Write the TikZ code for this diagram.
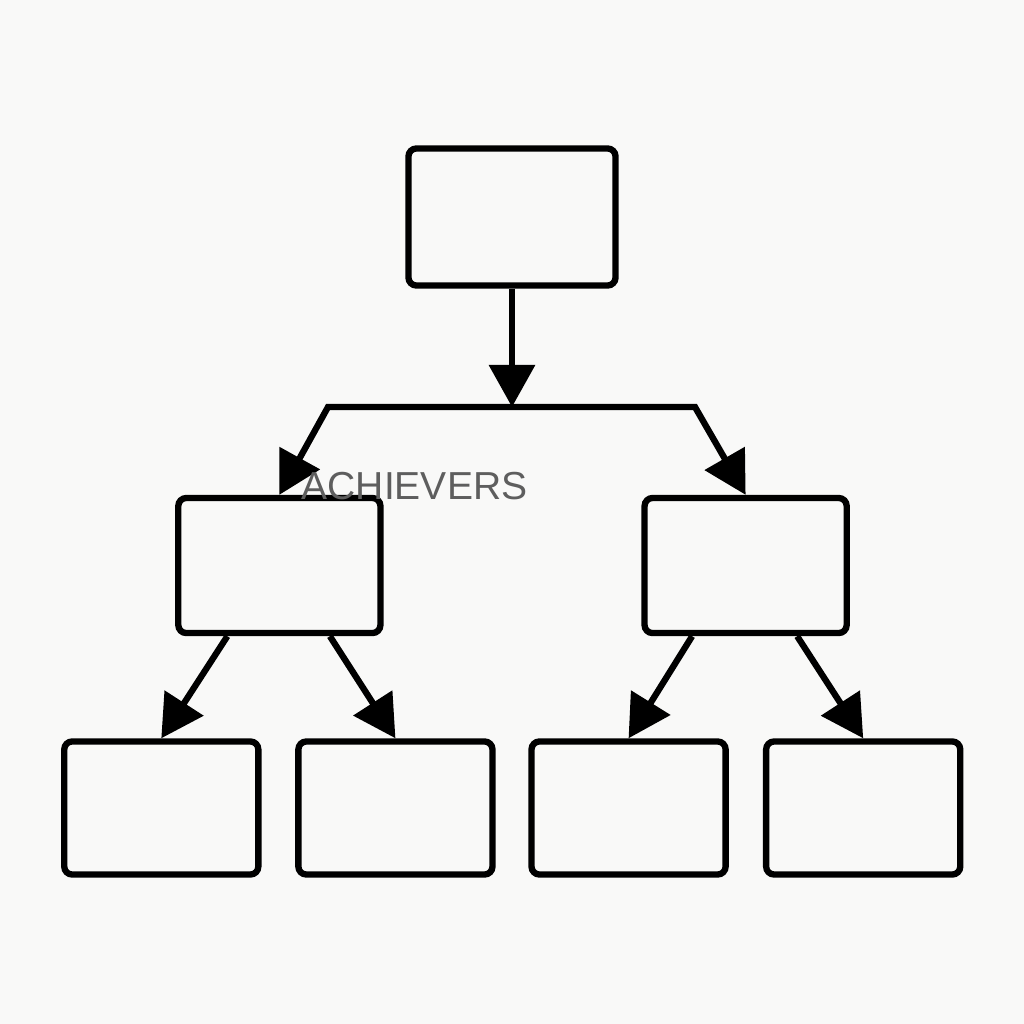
\documentclass[tikz,border=0pt]{standalone}
\usepackage{fontspec}
\setmainfont{Liberation Sans}
\usetikzlibrary{arrows.meta,positioning}
\definecolor{paper}{HTML}{F9F9F8}
\definecolor{inkgray}{HTML}{5E5E5E}
\tikzstyle{box} = [draw, line width=1.8pt, rounded corners=0.8mm, fill=paper, inner sep=0pt]
\tikzstyle{headbox} = [box, minimum width=2.07cm, minimum height=1.37cm]
\tikzstyle{midbox} = [box, minimum width=2.02cm, minimum height=1.35cm]
\tikzstyle{leafbox} = [box, minimum width=1.94cm, minimum height=1.33cm]
\tikzstyle{arrow} = [line width=1.8pt, -{Triangle[length=0.42cm,width=0.45cm]}]

\begin{document}
\begin{tikzpicture}[x=0.01cm,y=-0.01cm]
  \fill[paper] (0,0) rectangle (1024,1024);
  \node[headbox] (head) at (512,217) {};
  \node[midbox, below=2.06cm of head, xshift=-2.325cm] (midL) {};
  \node[midbox, below=2.06cm of head, xshift=2.335cm] (midR) {};
  \node[leafbox, below=1.02cm of midL, xshift=-1.18cm] (leafA) {};
  \node[leafbox, below=1.02cm of midL, xshift=1.16cm] (leafB) {};
  \node[leafbox, below=1.02cm of midR, xshift=-1.17cm] (leafC) {};
  \node[leafbox, below=1.02cm of midR, xshift=1.175cm] (leafD) {};
  \coordinate (split) at (512,407);
  \coordinate (jL) at (328,407);
  \coordinate (jR) at (695,407);
  \draw[arrow] (head.south) -- (split);
  \draw[arrow, {Triangle[length=0.42cm,width=0.45cm]}-{Triangle[length=0.42cm,width=0.45cm]}] (midL.north) -- (jL) -- (jR) -- (midR.north);
  \draw[arrow] ([xshift=-0.52cm]midL.south) -- (leafA.north);
  \draw[arrow] ([xshift=0.505cm]midL.south) -- (leafB.north);
  \draw[arrow] ([xshift=-0.535cm]midR.south) -- (leafC.north);
  \draw[arrow] ([xshift=0.515cm]midR.south) -- (leafD.north);
  \node[anchor=base west, inner sep=0pt, text=inkgray, font=\fontsize{11.1pt}{13pt}\selectfont] (brand) at (301,499) {ACHIEVERS};
\end{tikzpicture}
\end{document}
